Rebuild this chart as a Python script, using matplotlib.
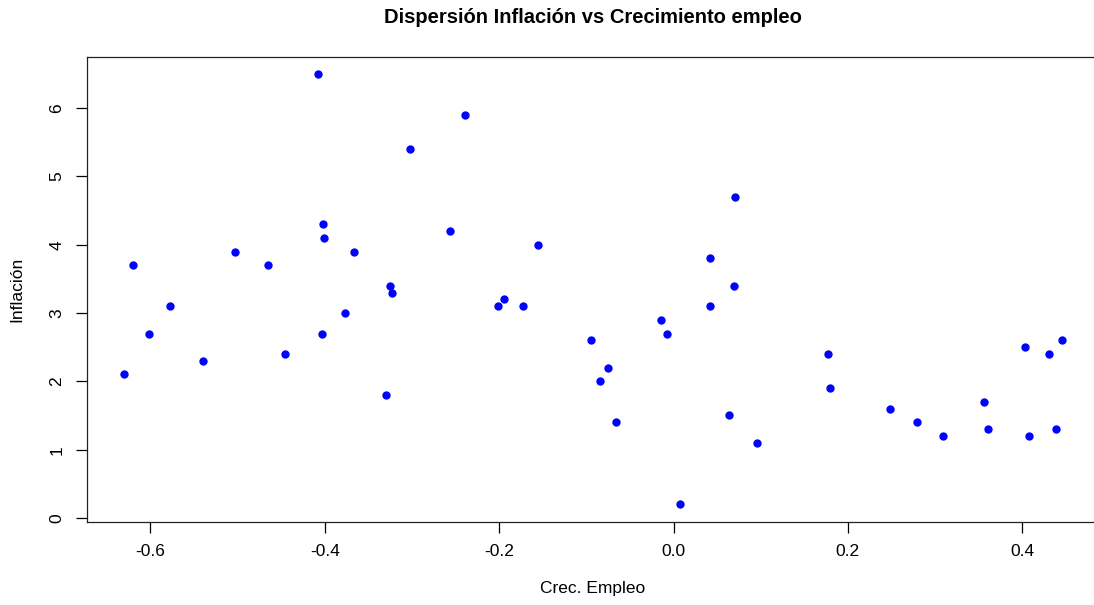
import numpy as np
import matplotlib.pyplot as plt

plt.rcParams['font.family'] = ['Liberation Sans', 'DejaVu Sans']

# Datos
crec_empleo = [-0.630, -0.620, -0.602, -0.578, -0.540, -0.503, -0.465, -0.446,
               -0.408, -0.402, -0.401, -0.403, -0.377, -0.367,
               -0.239, -0.302, -0.256, -0.155, -0.325, -0.323, -0.194, -0.201,
               -0.173, -0.330, -0.095, -0.014, -0.008, -0.075, -0.084, -0.066,
               0.008,
               0.070, 0.042, 0.069, 0.042, 0.177, 0.180, 0.064, 0.096, 0.248,
               0.279, 0.309, 0.356, 0.361, 0.403, 0.408, 0.431, 0.439, 0.445]
inflacion = [2.1, 3.7, 2.7, 3.1, 2.3, 3.9, 3.7, 2.4,
             6.5, 4.3, 4.1, 2.7, 3.0, 3.9,
             5.9, 5.4, 4.2, 4.0, 3.4, 3.3, 3.2, 3.1,
             3.1, 1.8, 2.6, 2.9, 2.7, 2.2, 2.0, 1.4,
             0.2,
             4.7, 3.8, 3.4, 3.1, 2.4, 1.9, 1.5, 1.1, 1.6,
             1.4, 1.2, 1.7, 1.3, 2.5, 1.2, 2.4, 1.3, 2.6]

xticks = [-0.6, -0.4, -0.2, 0.0, 0.2, 0.4]
yticks = [0, 1, 2, 3, 4, 5, 6]

fig = plt.figure(figsize=(10.94, 6.05), dpi=100)
# el recuadro del original se sale un poco por la derecha
ax = fig.add_axes([86.7 / 1094, (605 - 521.5) / 605, (1099 - 86.7) / 1094, (521.5 - 56.7) / 605])

ax.plot(crec_empleo, inflacion, 'o', color='blue', markersize=6, markeredgewidth=0)
ax.margins(0.04)

ax.set_xticks(xticks)
ax.set_xticklabels(['-0.6', '-0.4', '-0.2', '0.0', '0.2', '0.4'])
ax.set_yticks(yticks)
ax.set_yticklabels([str(v) for v in yticks], rotation=90, va='center')
ax.tick_params(direction='out', length=8, width=0.9, labelsize=12.5, pad=8, colors='black')
for s in ax.spines.values():
    s.set_linewidth(0.9)
    s.set_color('#222222')

ax.set_xlabel('Crec. Empleo', fontsize=12.5, labelpad=16)
ax.set_ylabel('Inflación', fontsize=12.5, labelpad=18)
ax.set_title('Dispersión Inflación vs Crecimiento empleo', fontsize=14.5,
             fontweight='bold', pad=24)

fig.savefig('out.png', dpi=100)
